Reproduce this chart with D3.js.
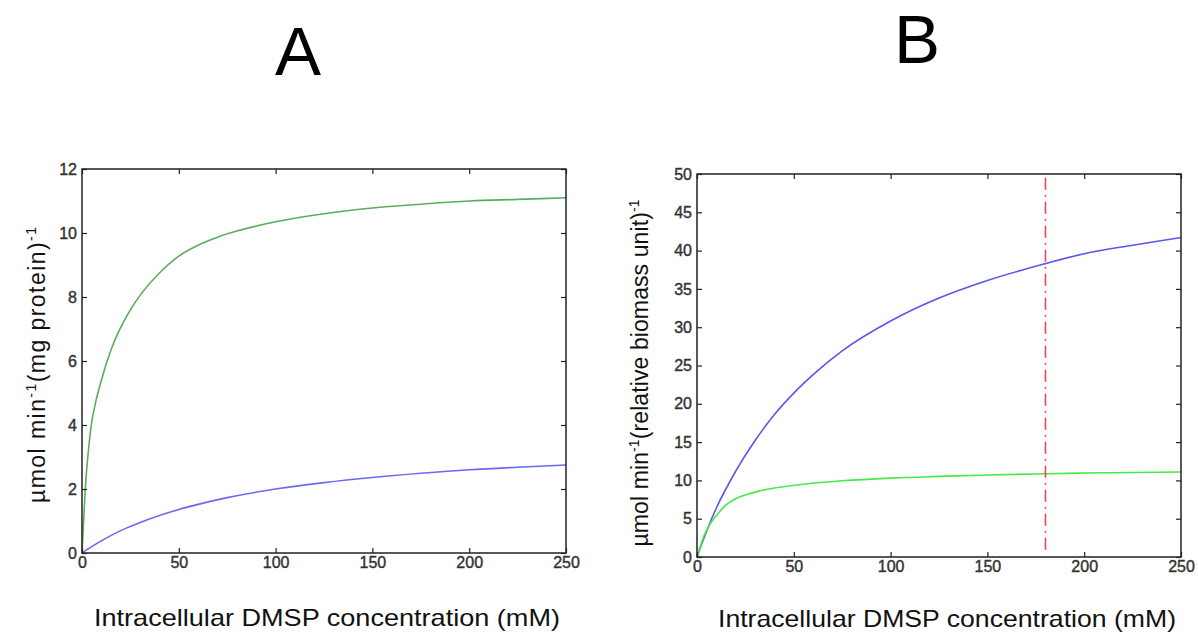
<!DOCTYPE html>
<html><head><meta charset="utf-8">
<script src="https://cdn.jsdelivr.net/npm/d3@7"></script>
<style>
body{margin:0;background:#fff;}
svg{display:block;}
</style></head>
<body>
<svg id="c" width="1198" height="633"></svg>
<script>
// ---------- data ----------
const panelTitles = ["A", "B"];
const xTicks = [0, 50, 100, 150, 200, 250];
const yTicksA = [0, 2, 4, 6, 8, 10, 12];
const yTicksB = [0, 5, 10, 15, 20, 25, 30, 35, 40, 45, 50];

const xA_green = [0, 0.5, 1, 1.7, 3, 4.8, 7, 10, 15, 20, 25, 30, 40, 50, 60, 70, 80, 100, 125, 150, 175, 200, 225, 250];
const yA_green = [0, 0.6, 1.2, 2.0, 3.0, 4.0, 4.7, 5.4, 6.35, 7.05, 7.6, 8.05, 8.75, 9.28, 9.62, 9.87, 10.06, 10.35, 10.6, 10.78, 10.9, 11.0, 11.05, 11.1];
const xA_blue = [0, 5, 10, 20, 30, 40, 50, 60, 75, 100, 125, 150, 175, 200, 225, 250];
const yA_blue = [0, 0.2, 0.38, 0.7, 0.95, 1.17, 1.36, 1.52, 1.73, 2.0, 2.2, 2.36, 2.49, 2.6, 2.68, 2.75];

const xB_blue = [0, 2, 5, 10, 20, 30, 40, 50, 60, 75, 100, 125, 150, 180, 200, 225, 250];
const yB_blue = [0, 1.4, 3.4, 6.4, 11.2, 15.2, 18.6, 21.4, 23.8, 26.9, 30.8, 33.8, 36.1, 38.3, 39.6, 40.7, 41.7];
const xB_green = [0, 2, 4, 6.5, 10, 15, 20, 25, 32, 40, 55, 75, 100, 125, 150, 180, 200, 225, 250];
const yB_green = [0, 1.6, 3.0, 4.2, 5.4, 6.8, 7.6, 8.1, 8.6, 9.0, 9.5, 9.95, 10.3, 10.52, 10.7, 10.87, 10.96, 11.03, 11.1];
const xB_marker = [180];

// ---------- drawing ----------
const svg = d3.select("#c");
const font = 'Arial,"Liberation Sans",sans-serif';

function styleTicks(a) {
  a.select(".domain").remove();
  a.attr("font-size", 16).attr("font-family", font);
  a.selectAll(".tick text").style("font-size", "16px").attr("fill", "#333")
    .attr("stroke", "#333").attr("stroke-width", 0.4);
}

function panel(cfg) {
  const x = d3.scaleLinear().domain([0, 250]).range([cfg.left, cfg.right]);
  const y = d3.scaleLinear().domain([0, cfg.ymax]).range([cfg.bottom, cfg.top]);
  const g = svg.append("g");

  const line = d3.line().x(d => x(d[0])).y(d => y(d[1])).curve(d3.curveMonotoneX);
  cfg.series.forEach(s => {
    g.append("path").datum(d3.zip(s.xs, s.ys)).attr("d", line)
      .attr("fill", "none").attr("stroke", s.color).attr("stroke-width", 1.6);
  });
  if (cfg.marker) {
    cfg.marker.forEach(m => {
      g.append("line").attr("x1", x(m)).attr("x2", x(m))
        .attr("y1", y(cfg.ymax * 0.99)).attr("y2", y(cfg.ymax * 0.01))
        .attr("stroke", "#f0474f").attr("stroke-width", 1.6)
        .attr("stroke-dasharray", "12,5,2,5");
    });
  }

  g.append("g").attr("transform", `translate(0,${cfg.bottom})`)
    .call(d3.axisBottom(x).tickValues(xTicks).tickSize(-5).tickPadding(4).tickFormat(d3.format("d")))
    .call(styleTicks);
  g.append("g").attr("transform", `translate(0,${cfg.top})`)
    .call(d3.axisTop(x).tickValues(xTicks).tickSize(-5).tickFormat(""))
    .call(styleTicks);
  g.append("g").attr("transform", `translate(${cfg.left},0)`)
    .call(d3.axisLeft(y).tickValues(cfg.yTicks).tickSize(-5).tickPadding(5).tickFormat(d3.format("d")))
    .call(styleTicks);
  g.append("g").attr("transform", `translate(${cfg.right},0)`)
    .call(d3.axisRight(y).tickValues(cfg.yTicks).tickSize(-5).tickFormat(""))
    .call(styleTicks);
  g.selectAll(".tick line").attr("stroke", "#222").attr("stroke-width", 1.2);

  g.append("rect").attr("x", cfg.left).attr("y", cfg.top)
    .attr("width", cfg.right - cfg.left).attr("height", cfg.bottom - cfg.top)
    .attr("fill", "none").attr("stroke", "#222").attr("stroke-width", 1.5);

  g.append("text").attr("x", cfg.titleX).attr("y", cfg.titleY).attr("text-anchor", "middle")
    .attr("font-family", font).attr("font-size", 69).attr("fill", "#000").text(cfg.title);

  g.append("text").attr("x", cfg.xlabX).attr("y", cfg.xlabY)
    .attr("font-family", font).attr("font-size", 24).attr("fill", "#111")
    .attr("textLength", cfg.xlabLen).attr("lengthAdjust", "spacingAndGlyphs")
    .text("Intracellular  DMSP  concentration  (mM)");

  const yl = g.append("text")
    .attr("transform", `translate(${cfg.ylabX},${cfg.ylabY}) rotate(-90)`)
    .attr("x", -cfg.ylabLen / 2)
    .attr("font-family", font).attr("font-size", 23).attr("fill", "#111")
    .attr("textLength", cfg.ylabLen).attr("lengthAdjust", "spacing");
  cfg.ylab.forEach(p => {
    const t = yl.append("tspan").text(p.t);
    if (p.sup) t.attr("font-size", 14).attr("dy", -9);
    else if (p.down) t.attr("dy", 9);
  });
}

panel({
  title: panelTitles[0], titleX: 298, titleY: 75,
  left: 82, right: 566, top: 169, bottom: 553, ymax: 12, yTicks: yTicksA,
  series: [
    { xs: xA_green, ys: yA_green, color: "#5aae5a" },
    { xs: xA_blue, ys: yA_blue, color: "#6a6af0" }
  ],
  xlabX: 94, xlabY: 626, xlabLen: 466,
  ylabX: 45, ylabY: 365, ylabLen: 276,
  ylab: [{ t: "\u00b5mol  min" }, { t: "-1", sup: true }, { t: "(mg  protein)", down: true }, { t: "-1", sup: true }]
});

panel({
  title: panelTitles[1], titleX: 917, titleY: 63,
  left: 697, right: 1181, top: 174, bottom: 557, ymax: 50, yTicks: yTicksB,
  series: [
    { xs: xB_blue, ys: yB_blue, color: "#5858ee" },
    { xs: xB_green, ys: yB_green, color: "#46ea46" }
  ],
  marker: xB_marker,
  xlabX: 718, xlabY: 627, xlabLen: 458,
  ylabX: 648, ylabY: 373, ylabLen: 347,
  ylab: [{ t: "\u00b5mol  min" }, { t: "-1", sup: true }, { t: "(relative biomass unit)", down: true }, { t: "-1", sup: true }]
});
</script>
</body></html>
